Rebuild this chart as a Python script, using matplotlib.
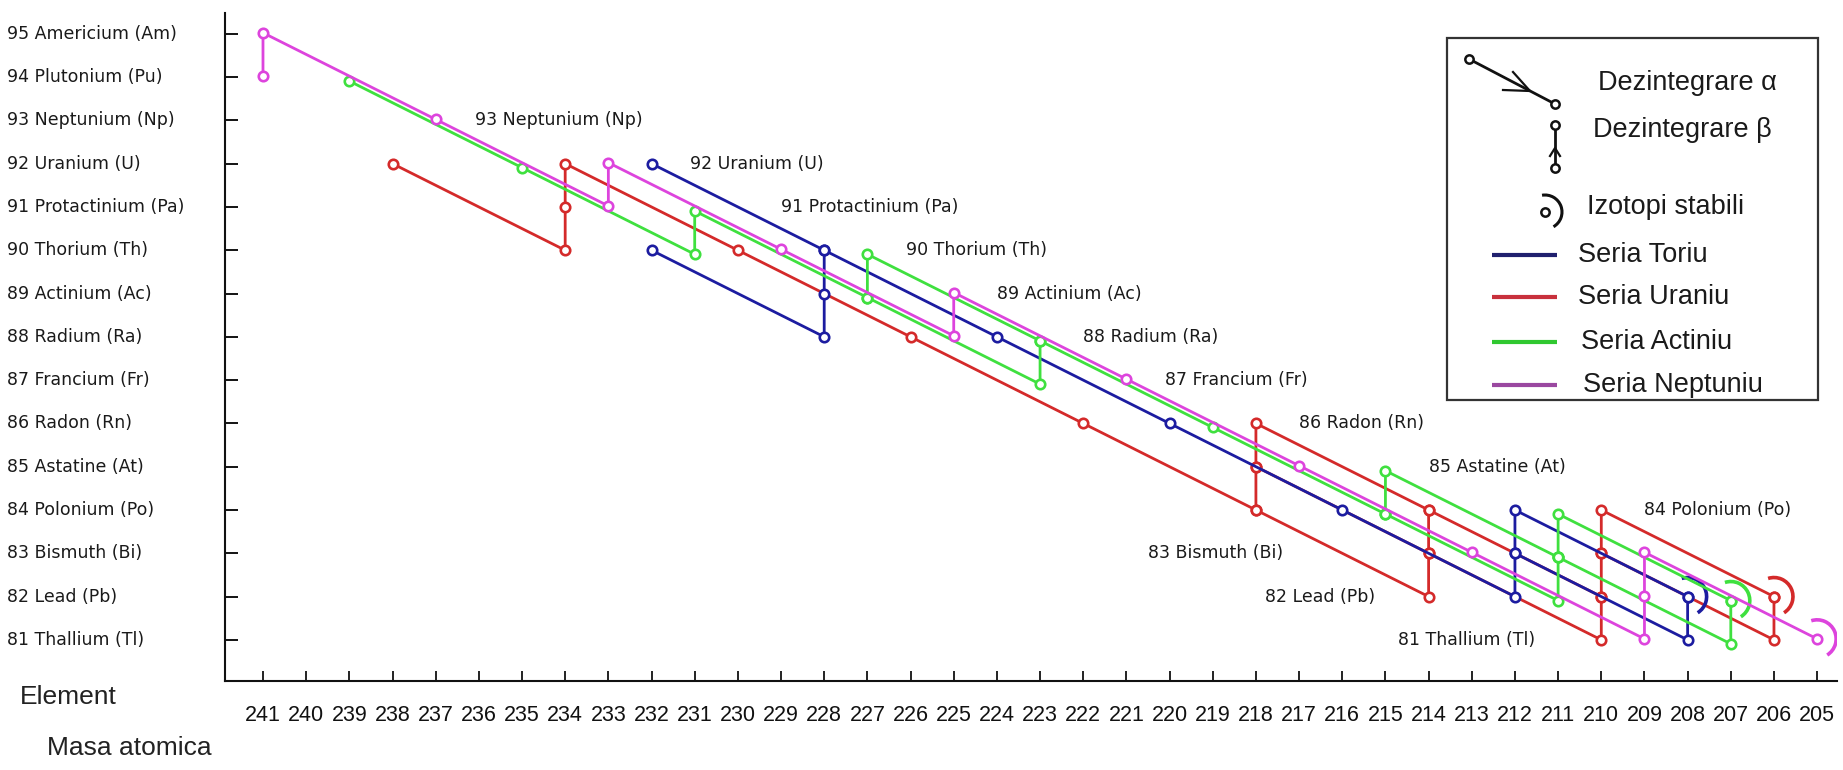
import matplotlib
matplotlib.use("Agg")
import matplotlib.pyplot as plt
import matplotlib.transforms as mtransforms
from matplotlib.patches import Arc, Rectangle

# ---------------- data ----------------
mass_numbers = list(range(241, 204, -1))
element_z = list(range(95, 80, -1))
element_names = ["95 Americium (Am)", "94 Plutonium (Pu)", "93 Neptunium (Np)",
                 "92 Uranium (U)", "91 Protactinium (Pa)", "90 Thorium (Th)",
                 "89 Actinium (Ac)", "88 Radium (Ra)", "87 Francium (Fr)",
                 "86 Radon (Rn)", "85 Astatine (At)", "84 Polonium (Po)",
                 "83 Bismuth (Bi)", "82 Lead (Pb)", "81 Thallium (Tl)"]

# decay paths: (mass number A, atomic number Z)
thorium_paths = [
    [(232, 92), (228, 90)],
    [(232, 90), (228, 88), (228, 89), (228, 90), (224, 88), (220, 86), (216, 84),
     (212, 82), (212, 83), (212, 84), (208, 82)],
    [(212, 83), (208, 81), (208, 82)],
]
uranium_paths = [
    [(238, 92), (234, 90), (234, 91), (234, 92), (230, 90), (226, 88), (222, 86),
     (218, 84), (214, 82), (214, 83), (214, 84), (210, 82), (210, 83), (210, 84), (206, 82)],
    [(218, 84), (218, 85), (218, 86), (214, 84)],
    [(218, 85), (214, 83), (210, 81), (210, 82)],
    [(210, 83), (206, 81), (206, 82)],
]
actinium_paths = [
    [(239, 94), (235, 92), (231, 90), (231, 91), (227, 89), (227, 90), (223, 88),
     (219, 86), (215, 84), (211, 82), (211, 83), (211, 84), (207, 82)],
    [(227, 89), (223, 87), (223, 88)],
    [(215, 84), (215, 85), (211, 83)],
    [(211, 83), (207, 81), (207, 82)],
]
neptunium_paths = [
    [(241, 94), (241, 95), (237, 93), (233, 91), (233, 92), (229, 90), (225, 88),
     (225, 89), (221, 87), (217, 85), (213, 83), (209, 81), (209, 82), (209, 83), (205, 81)],
]
stable_isotopes = {"thorium": (208, 82), "uranium": (206, 82),
                   "actinium": (207, 82), "neptunium": (205, 81)}

series_names = ["Seria Toriu", "Seria Uraniu", "Seria Actiniu", "Seria Neptuniu"]

# in-chart element row labels
row_label_names = ["93 Neptunium (Np)", "92 Uranium (U)", "91 Protactinium (Pa)",
                   "90 Thorium (Th)", "89 Actinium (Ac)", "88 Radium (Ra)",
                   "87 Francium (Fr)", "86 Radon (Rn)", "85 Astatine (At)",
                   "84 Polonium (Po)", "83 Bismuth (Bi)", "82 Lead (Pb)",
                   "81 Thallium (Tl)"]
row_label_z = [93, 92, 91, 90, 89, 88, 87, 86, 85, 84, 83, 82, 81]

# ---------------- figure ----------------
W, H = 1843, 770
fig = plt.figure(figsize=(W / 100, H / 100), dpi=100)
fig.patch.set_facecolor("white")

ax = fig.add_axes([225 / W, 89 / H, (1837 - 225) / W, (681 - 13) / H])
ax.set_xlim(241.88, 204.54)
ax.set_ylim(80.05, 95.48)
ax.set_facecolor("white")
for s in ["top", "right"]:
    ax.spines[s].set_visible(False)
for s in ["left", "bottom"]:
    ax.spines[s].set_linewidth(1.5)
    ax.spines[s].set_color("#111111")

ax.set_xticks(mass_numbers)
ax.set_xticklabels([str(m) for m in mass_numbers])
ax.tick_params(axis="x", direction="in", length=7, width=1.3, pad=17,
               labelsize=15.5, colors="#111111")
for lbl in ax.get_xticklabels():
    lbl.set_fontfamily("Liberation Sans")
ax.set_yticks(element_z)
ax.set_yticklabels([])
ax.tick_params(axis="y", direction="in", length=9, width=1.3)

colors = {"thorium": "#1c1ca0", "uranium": "#d42a2a",
          "actinium": "#3fe03f", "neptunium": "#dd44dd"}
paths = {"thorium": thorium_paths, "uranium": uranium_paths,
         "actinium": actinium_paths, "neptunium": neptunium_paths}
offsets = {"thorium": 0, "uranium": 0, "actinium": -4, "neptunium": 1}
order = ["uranium", "thorium", "actinium", "neptunium"]

for key in order:
    tr = mtransforms.offset_copy(ax.transData, fig=fig, x=0, y=offsets[key], units="dots")
    for p in paths[key]:
        xs = [a for a, z in p]
        ys = [z for a, z in p]
        ax.plot(xs, ys, color=colors[key], lw=2.0, marker="o", ms=6.8,
                mfc="white", mec=colors[key], mew=1.9, transform=tr,
                solid_joinstyle="round", zorder=3)
    a0, z0 = stable_isotopes[key]
    ax.add_patch(Arc((a0, z0), 0.88, 0.88, theta1=72, theta2=238,
                     color=colors[key], lw=2.6, transform=tr, zorder=3))

# in-chart row labels
row_label_mass = [236.1, 231.1, 229.0, 226.1, 224.0, 222.0, 220.1, 217.0, 214.0,
                  209.0, 220.5, 217.8, 214.7]
for name, a, z in zip(row_label_names, row_label_mass, row_label_z):
    ax.text(a, z, name, ha="left", va="center", fontsize=12.5,
            family="DejaVu Sans", color="#1a1a1a", zorder=5)

# y element labels at left (figure x, data y)
ytr = mtransforms.blended_transform_factory(fig.transFigure, ax.transData)
for z, name in zip(element_z, element_names):
    ax.text(7 / W, z, name, transform=ytr, ha="left", va="center",
            fontsize=12.5, family="DejaVu Sans", color="#1a1a1a", clip_on=False)

# ---------------- overlay (pixel coords, y up) ----------------
ov = fig.add_axes([0, 0, 1, 1], zorder=10)
ov.set_xlim(0, W)
ov.set_ylim(0, H)
ov.axis("off")
ov.patch.set_alpha(0)


def Y(y):
    return H - y


ov.text(20, Y(697), "Element", ha="left", va="center", fontsize=19,
        family="Liberation Sans", color="#222222")
ov.text(47, Y(748), "Masa atomica", ha="left", va="center", fontsize=19,
        family="Liberation Sans", color="#222222")

# legend box
ov.add_patch(Rectangle((1447, Y(400)), 1818 - 1447, 400 - 38, fill=False,
                       ec="#333333", lw=1.6))
k = "#111111"
# alpha symbol
ov.plot([1469, 1555], [Y(59), Y(104)], color=k, lw=2.0)
ov.plot([1513, 1530, 1503], [Y(72), Y(91), Y(90)], color=k, lw=1.6)
ov.plot([1469, 1555], [Y(59), Y(104)], ls="none", marker="o", ms=6,
        mfc="white", mec=k, mew=1.8)
ov.text(1598, Y(83), "Dezintegrare α", ha="left", va="center", fontsize=19.5,
        family="Liberation Sans", color="#1a1a1a")
# beta symbol
ov.plot([1555, 1555], [Y(125), Y(168)], color=k, lw=2.0)
ov.plot([1550, 1555, 1560], [Y(156), Y(148), Y(156)], color=k, lw=1.6)
ov.plot([1555, 1555], [Y(125), Y(168)], ls="none", marker="o", ms=6,
        mfc="white", mec=k, mew=1.8)
ov.text(1593, Y(130), "Dezintegrare β", ha="left", va="center", fontsize=19.5,
        family="Liberation Sans", color="#1a1a1a")
# stable symbol
ov.plot([1545], [Y(212)], ls="none", marker="o", ms=6, mfc="white", mec=k, mew=1.8)
ov.add_patch(Arc((1545, Y(212)), 34, 34, theta1=-60, theta2=100, color=k, lw=2.2))
ov.text(1587, Y(207), "Izotopi stabili", ha="left", va="center", fontsize=19.5,
        family="Liberation Sans", color="#1a1a1a")
# series lines
legend_colors = ["#20206e", "#c8303c", "#30c830", "#9a48a0"]
legend_y = [255, 297, 342, 385]
legend_tx = [1578, 1578, 1581, 1583]
for name, c, y, tx in zip(series_names, legend_colors, legend_y, legend_tx):
    ov.plot([1492, 1557], [Y(y), Y(y)], color=c, lw=3.0, solid_capstyle="butt")
    ov.text(tx, Y(y), name, ha="left", va="center", fontsize=19.5,
            family="Liberation Sans", color="#1a1a1a")

fig.savefig("out.png", dpi=100, facecolor="white")
